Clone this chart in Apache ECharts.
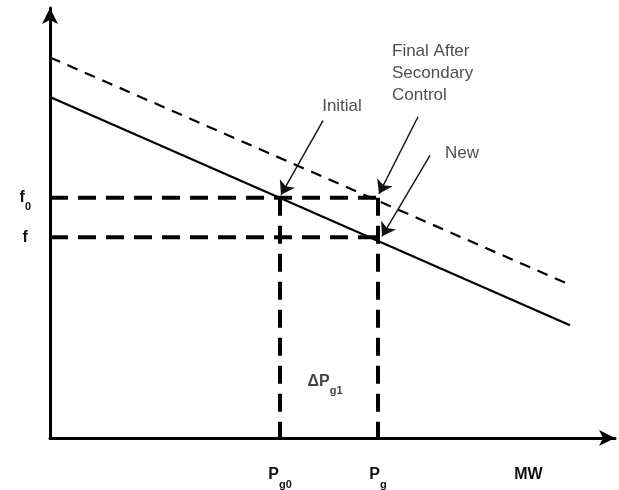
<!DOCTYPE html>
<html>
<head>
<meta charset="utf-8">
<script src="https://cdn.jsdelivr.net/npm/echarts@6/dist/echarts.min.js"></script>
<style>
  html, body { margin:0; padding:0; background:#fff; }
  #chart { width:619px; height:490px; }
</style>
</head>
<body>
<div id="chart"></div>
<script>
// ===== Data (schematic units: MW on x, frequency on y)
const droopInitial = [[0, 345], [520, 114]];   // solid droop line
const droopFinal   = [[0, 385], [520, 155]];   // after secondary control (dashed)

const freqNames  = ['f0', 'f'];
const freqValues = [243, 203];
const powerNames  = ['Pg0', 'Pg', 'MW'];
const powerValues = [230, 328, 480];

// annotation arrows: [from, to]
const arrowInitial = [[273, 321], [231, 246]];
const arrowFinal   = [[368, 325], [329, 247]];
const arrowNew     = [[380, 286], [332, 204]];

const noteNames  = ['Initial', 'Final After\nSecondary\nControl', 'New'];
const notePoints = [[292, 336], [342, 369], [395, 288]];

const deltaName  = 'ΔPg1';
const deltaPoint = [275, 57];

// ===== Helpers
const FONT = '"Liberation Sans", Arial, sans-serif';
function sub(name){
  // 'Pg0' -> P + g0 subscript, 'f0' -> f + 0, 'ΔPg1' -> ΔP + g1
  if (name === 'MW') return '{m|MW}{s| }';
  const m = name.match(/^(Δ?[A-Za-z])(.*)$/);
  return m[2] ? `{m|${m[1]}}{s|${m[2]}}` : `{m|${m[1]}}{s| }`;
}
const rich = {
  m:{ fontFamily:FONT, fontSize:16, fontWeight:'bold', color:'#111', lineHeight:18 },
  s:{ fontFamily:FONT, fontSize:11, fontWeight:'bold', color:'#111', lineHeight:30, verticalAlign:'bottom' }
};

const chart = echarts.init(document.getElementById('chart'), null, { renderer:'canvas' });

const heavyDash = { color:'#000', width:4, type:[18, 10] };
const arrowSeries = (name, pts) => ({
  type:'lines', coordinateSystem:'cartesian2d', name, silent:true,
  symbol:['none','arrow'], symbolSize:13,
  lineStyle:{ color:'#111', width:1.4, opacity:1 },
  data:[{ coords: pts }]
});

chart.setOption({
  animation:false,
  grid:{ left:50, right:4, top:8, bottom:47 },
  xAxis:{
    type:'value', min:0, max:565,
    axisLine:{ show:true, symbol:['none','arrow'], symbolSize:[12,16], lineStyle:{ color:'#000', width:3 } },
    axisTick:{ show:false }, splitLine:{ show:false },
    axisLabel:{ show:true, customValues: powerValues, margin:22,
      formatter: v => sub(powerNames[powerValues.indexOf(v)]), rich }
  },
  yAxis:{
    type:'value', min:0, max:435,
    axisLine:{ show:true, symbol:['none','arrow'], symbolSize:[12,16], lineStyle:{ color:'#000', width:3 } },
    axisTick:{ show:false }, splitLine:{ show:false },
    axisLabel:{ show:true, customValues: freqValues, margin:19,
      formatter: v => sub(freqNames[freqValues.indexOf(v)]), rich }
  },
  series:[
    { type:'line', data:droopInitial, symbol:'none', lineStyle:{ color:'#000', width:2.2 }, z:3 },
    { type:'line', data:droopFinal, symbol:'none', lineStyle:{ color:'#000', width:2.2, type:[11, 8] }, z:3 },
    // frequency levels
    { type:'line', data:[[0, freqValues[0]], [powerValues[1], freqValues[0]]], symbol:'none', lineStyle:heavyDash },
    { type:'line', data:[[0, freqValues[1]], [powerValues[1], freqValues[1]]], symbol:'none', lineStyle:heavyDash },
    // power levels
    { type:'line', data:[[powerValues[0], freqValues[0]], [powerValues[0], 0]], symbol:'none', lineStyle:heavyDash },
    { type:'line', data:[[powerValues[1], freqValues[0]], [powerValues[1], 0]], symbol:'none', lineStyle:heavyDash },
    arrowSeries('Initial', arrowInitial),
    arrowSeries('Final', arrowFinal),
    arrowSeries('New', arrowNew),
    { type:'scatter', symbolSize:0, clip:false, silent:true,
      data: notePoints.map((p, i) => ({ value:p, name:noteNames[i],
        label:{ align: i === 0 ? 'center' : 'left' } })),
      label:{ show:true, position:'inside', formatter: p => p.name,
        fontFamily:FONT, fontSize:17, color:'#222', lineHeight:22 } },
    { type:'scatter', symbolSize:0, clip:false, silent:true,
      data:[{ value:deltaPoint, name:deltaName }],
      label:{ show:true, position:'inside', formatter: p => sub(p.name), rich } }
  ]
});
</script>
</body>
</html>
